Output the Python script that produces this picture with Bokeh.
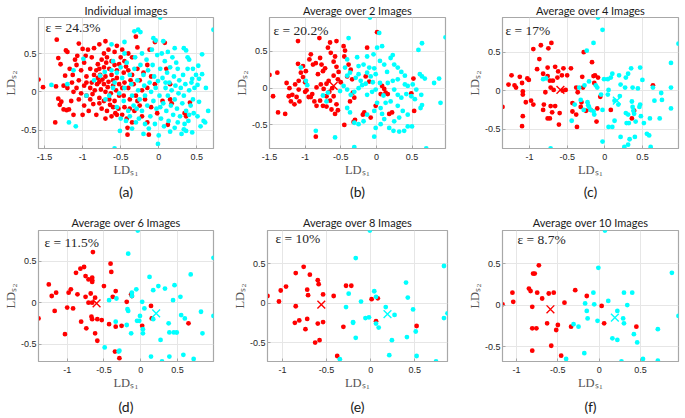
from bokeh.plotting import figure
from bokeh.models import Range1d, FixedTicker, NumeralTickFormatter, LinearAxis, Label
from bokeh.layouts import column, row
from bokeh.embed import file_html
from bokeh.resources import INLINE

titles = ["Individual images", "Average over 2 Images", "Average over 4 Images",
          "Average over 6 Images", "Average over 8 Images", "Average over 10 Images"]
errors = ["24.3%", "20.2%", "17%", "11.5%", "10%", "8.7%"]
letters = ["(a)", "(b)", "(c)", "(d)", "(e)", "(f)"]
x_ticks = [-1.5, -1, -0.5, 0, 0.5]
y_ticks = [-0.5, 0, 0.5]

red_a = [[-1.58,0.16],[-1.52,0.06],[-1.34,0.68],[-1.32,0.44],[-1.22,0.54],[-1.20,0.52],[-1.29,0.36],[-1.23,0.21],[-1.35,0.07],[-1.32,-0.09],[-1.28,-0.13],[-1.30,-0.17],[-1.25,-0.23],[-1.21,-0.24],[-1.18,-0.23],[-1.36,-0.40],[-1.17,0.30],[-1.14,0.12],[-1.12,0.00],[-1.15,-0.12],[-1.20,0.05],[-1.13,0.22],[-1.25,0.08],[-1.12,-0.30],[-1.10,0.42],
 [-1.05,0.63],[-1.00,0.56],[-1.08,0.35],[-1.02,0.28],[-0.98,0.38],[-0.95,0.20],[-1.05,0.15],[-0.98,0.08],[-1.02,-0.02],[-0.95,-0.05],[-1.05,-0.10],[-0.98,-0.18],[-0.92,-0.25],[-1.00,-0.30],[-0.88,0.45],[-0.90,0.30],[-0.85,0.22],[-0.88,0.12],[-0.84,0.02],[-0.90,-0.10],[-0.86,-0.16],[-0.82,-0.30],[-0.93,0.55],[-0.85,0.57],[-1.07,0.47],[-0.96,0.47],[-0.80,0.36],[-0.82,0.28],[-0.81,0.10],[-0.95,0.12],[-0.90,0.05],[-1.08,0.05],[-0.87,-0.03],
 [-0.78,0.62],[-0.70,0.66],[-0.72,0.50],[-0.75,0.42],[-0.68,0.45],[-0.62,0.40],[-0.78,0.30],[-0.72,0.32],[-0.65,0.30],[-0.58,0.35],[-0.55,0.28],[-0.77,0.22],[-0.70,0.20],[-0.62,0.22],[-0.55,0.18],[-0.78,0.13],[-0.72,0.10],[-0.66,0.13],[-0.60,0.08],[-0.52,0.10],[-0.76,0.03],[-0.70,0.00],[-0.63,-0.02],[-0.56,0.02],[-0.78,-0.08],[-0.72,-0.12],[-0.65,-0.10],[-0.58,-0.12],[-0.52,-0.05],[-0.75,-0.22],[-0.68,-0.25],[-0.60,-0.20],[-0.53,-0.22],[-0.70,-0.35],[-0.62,-0.32],[-0.55,-0.30],[-0.66,0.55],[-0.58,0.52],[-0.55,0.60],[-0.60,0.15],[-0.74,0.16],[-0.67,0.06],[-0.57,-0.28],[-0.78,-0.15],[-0.69,0.38],[-0.64,-0.17],[-0.80,0.18],[-0.50,0.45],[-0.52,0.36],
 [-0.48,0.55],[-0.45,0.40],[-0.40,0.50],[-0.35,0.45],[-0.30,0.72],[-0.28,0.58],[-0.46,0.25],[-0.40,0.28],[-0.35,0.22],[-0.28,0.30],[-0.45,0.12],[-0.40,0.05],[-0.33,0.10],[-0.25,0.15],[-0.46,-0.05],[-0.38,-0.10],[-0.30,-0.05],[-0.22,0.02],[-0.45,-0.20],[-0.38,-0.22],[-0.32,-0.25],[-0.25,-0.18],[-0.42,-0.35],[-0.35,-0.40],[-0.41,-0.47],[-0.41,-0.56],[-0.48,-0.30],[-0.22,-0.32],[-0.28,-0.12],[-0.20,0.25],[-0.43,0.33],[-0.37,0.15],[-0.48,0.05],
 [-0.12,0.55],[-0.05,0.65],[0.08,0.64],[-0.15,0.35],[-0.10,0.20],[-0.05,0.10],[-0.15,0.05],[-0.18,-0.10],[-0.10,-0.20],[-0.02,-0.28],[-0.13,-0.56],[-0.15,-0.40],[0.05,-0.12],[0.12,-0.43],[0.10,0.30],[0.15,0.10],[0.41,-0.14],[0.15,-0.10],[0.17,-0.15],[0.34,-0.28],[0.36,-0.32]]
cyan_a = [[0.02,0.97],[0.72,0.81],[-0.32,0.79],[-0.27,0.81],[-0.24,0.78],[-0.07,0.70],[-0.04,0.67],[0.06,0.66],[0.21,0.57],[0.33,0.57],[0.36,0.54],[0.57,0.49],[0.52,0.34],[0.57,0.23],[0.45,0.30],[0.49,0.22],[0.44,0.17],[0.51,0.09],[0.53,0.17],[0.53,-0.13],[0.59,-0.38],[0.61,-0.40],[0.51,-0.32],[0.55,-0.45],[0.44,-0.53],[0.36,-0.51],[0.33,-0.49],[0.25,-0.40],[0.21,-0.47],[0.00,-0.57],[-0.01,-0.68],[-0.58,-0.74],[-0.51,-0.51],[-1.09,-0.45],[-1.18,-0.40],[-1.41,0.09],[-1.12,0.28],[-0.99,0.43],[-0.77,0.21],[-0.71,0.26],[-1.20,0.10],[-0.95,-0.05],[-0.85,0.15],[-0.62,0.62],[-0.45,0.65],[0.40,0.42],[0.62,0.05],[0.65,-0.25],[0.45,-0.10],[0.40,-0.30],[0.30,-0.55],[0.15,-0.52],[-0.20,-0.55],[-0.35,-0.48],[-0.70,-0.10],[-0.60,0.40],
 [-0.58,0.12],[-0.55,0.25],[-0.52,-0.02],[-0.50,0.32],[-0.48,0.18],[-0.46,-0.12],[-0.45,0.05],[-0.42,0.38],[-0.40,-0.25],[-0.38,0.22],[-0.36,0.10],[-0.35,-0.05],[-0.33,-0.18],[-0.32,0.30],[-0.31,0.45],[-0.55,-0.20],[-0.50,-0.35],[-0.43,-0.38],[-0.38,-0.32],[-0.60,0.05],[-0.65,-0.05],[-0.62,0.28],[-0.30,-0.40],[-0.45,0.50],
 [-0.28,0.15],[-0.27,0.02],[-0.25,-0.10],[-0.24,0.35],[-0.22,-0.25],[-0.20,0.22],[-0.19,0.08],[-0.18,-0.05],[-0.16,0.42],[-0.15,-0.18],[-0.14,0.28],[-0.12,0.12],[-0.11,-0.32],[-0.10,0.00],[-0.08,0.35],[-0.07,-0.12],[-0.06,0.20],[-0.05,-0.42],[-0.04,0.05],[-0.03,-0.22],[-0.02,0.48],[-0.01,0.14],[-0.26,-0.35],[-0.22,0.50],[-0.18,-0.42],[-0.13,-0.48],[-0.09,0.55],[-0.29,-0.22],
 [0.01,-0.05],[0.02,0.30],[0.03,-0.35],[0.05,0.18],[0.06,-0.15],[0.08,0.40],[0.09,0.05],[0.10,-0.25],[0.11,0.25],[0.12,-0.05],[0.13,-0.38],[0.14,0.12],[0.15,0.32],[0.16,-0.18],[0.17,0.02],[0.18,0.45],[0.19,-0.30],[0.20,0.20],[0.21,-0.10],[0.22,0.08],[0.24,-0.22],[0.25,0.30],[0.26,-0.02],[0.27,0.15],[0.28,-0.32],[0.29,0.05],[0.04,0.50],[0.07,-0.45],[0.12,0.52],[0.23,0.38],[0.02,-0.20],[0.09,0.12],
 [0.31,-0.15],[0.32,0.22],[0.33,-0.05],[0.35,0.10],[0.36,-0.25],[0.38,0.30],[0.39,-0.38],[0.40,0.02],[0.42,-0.18],[0.43,0.12],[0.46,-0.28],[0.47,0.05],[0.34,-0.42],[0.38,0.45]]

red_b = [[-1.50,0.18],[-1.39,0.21],[-1.45,-0.11],[-1.38,-0.33],[-1.28,-0.35],[-1.26,0.07],[-1.23,-0.11],[-1.18,-0.09],[-1.12,-0.12],[-1.20,-0.18],[-1.15,-0.22],[-1.08,-0.18],[-1.10,0.64],[-1.10,0.33],[-1.03,0.30],[-1.06,0.21],[-0.99,0.23],[-1.22,0.00],[-1.14,0.05],[-1.09,0.10],[-1.03,0.15],[-1.09,-0.02],[-1.00,0.08],[-1.00,-0.05],
 [-0.94,0.39],[-0.92,0.46],[-0.89,0.32],[-0.85,0.34],[-0.79,0.41],[-0.77,0.32],[-0.72,0.27],[-0.75,0.23],[-0.82,0.19],
 [-0.98,-0.03],[-0.95,-0.12],[-0.90,-0.08],[-0.84,0.01],[-0.78,0.05],[-0.74,-0.01],[-0.70,0.06],
 [-0.92,-0.12],[-0.87,-0.18],[-0.84,-0.24],[-0.79,-0.17],[-0.75,-0.24],[-0.70,-0.11],[-0.65,-0.17],[-0.60,-0.11],
 [-0.80,0.68],[-0.68,0.55],[-0.64,0.48],[-0.58,0.43],[-0.56,0.64],[-0.65,0.62],
 [-0.60,0.36],[-0.56,0.29],[-0.53,0.22],[-0.60,0.17],[-0.54,0.12],[-0.50,0.08],
 [-0.63,-0.29],[-0.58,-0.35],[-0.56,-0.22],[-0.54,-0.30],
 [-0.46,0.57],[-0.44,0.51],[-0.45,0.43],[-0.39,0.32],[-0.36,0.25],[-0.41,0.16],[-0.34,0.12],
 [-0.33,-0.06],[-0.31,-0.13],[-0.37,-0.18],
 [-0.13,0.55],[0.01,0.76],[-0.15,0.16],[-0.10,0.09],
 [0.08,0.03],[0.13,-0.06],[0.06,-0.08],[0.11,-0.01],[0.16,-0.08],[0.22,-0.33],[0.18,-0.35],
 [-0.01,-0.24],[-0.08,-0.40],[-0.17,-0.33],[-0.19,-0.36],[-0.30,-0.43],[-0.32,-0.46],
 [0.52,0.13],[0.49,-0.07],[0.53,-0.31],[-0.45,-0.50],[-0.85,-0.66],[-0.70,-0.25],[-0.67,0.10],[-0.62,0.00],[-0.66,-0.05]]
cyan_b = [[-0.09,0.96],[0.04,0.75],[0.97,0.69],[0.64,0.61],[0.59,0.52],[0.23,0.45],[-0.04,0.46],[-0.13,0.43],[-0.39,0.68],[-0.27,0.42],[-0.41,0.39],
 [0.01,0.55],[0.08,0.57],[0.05,0.37],[0.11,0.32],[0.20,0.41],[0.25,0.32],[0.30,0.28],
 [-0.18,0.32],[-0.10,0.28],[-0.03,0.27],[-0.13,0.21],[-0.08,0.16],[-0.01,0.19],
 [-0.44,0.28],[-0.41,0.17],[-0.37,0.21],[-0.29,0.14],[-0.25,0.19],[-0.22,0.10],
 [-1.06,0.28],[-0.99,0.10],[-0.97,0.04],
 [-0.75,-0.10],[-0.68,-0.06],[-0.70,-0.18],
 [-0.51,-0.04],[-0.46,0.03],[-0.41,-0.02],[-0.36,-0.09],[-0.31,-0.05],[-0.25,0.00],[-0.20,0.04],[-0.15,0.06],
 [-0.13,-0.09],[-0.06,-0.05],[-0.01,-0.02],[0.05,0.07],[0.16,0.07],[0.23,0.10],[0.30,0.12],[0.40,0.17],[0.44,0.03],
 [0.61,0.19],[0.64,0.16],[0.68,0.13],[0.81,0.07],[0.88,0.13],[0.90,-0.20],
 [0.51,0.05],[0.56,-0.02],[0.49,-0.11],[0.54,-0.15],[0.63,-0.09],[0.40,0.05],[0.42,-0.08],[0.35,-0.13],[0.30,-0.09],[0.25,-0.02],
 [0.20,-0.18],[0.13,-0.20],[0.06,-0.27],[0.01,-0.20],[-0.03,-0.31],[-0.13,-0.36],[-0.18,-0.45],[-0.25,-0.49],[-0.31,-0.47],[-0.37,-0.33],[-0.41,-0.27],
 [0.30,-0.24],[0.37,-0.31],[0.44,-0.36],[0.32,-0.40],[0.25,-0.45],[0.18,-0.54],[0.24,-0.58],[0.32,-0.59],[0.39,-0.58],[0.44,-0.52],[0.50,-0.52],
 [0.08,-0.35],[0.11,-0.42],[0.06,-0.49],[-0.01,-0.54],
 [-0.85,-0.58],[-0.58,-0.67],[-0.31,-0.80],[-0.03,-0.66],[0.70,-0.82],[0.64,-0.23],[0.62,-0.27],
 [-0.25,0.30],[0.15,0.22],[0.35,0.22],[-0.05,0.08],[0.10,-0.10]]

red_c = [[-1.36,-0.21],[-1.28,0.08],[-1.24,0.20],[-1.20,0.07],[-1.18,0.04],[-1.13,0.18],[-1.10,0.10],[-1.09,-0.01],[-1.09,-0.05],[-1.03,0.16],[-1.01,0.14],[-1.05,-0.15],[-0.98,-0.13],[-0.95,-0.18],[-1.09,-0.33],[-1.10,-0.46],[-0.95,0.54],[-0.85,0.59],[-0.75,0.55],[-0.71,0.62],[-0.87,0.41],[-0.90,0.28],[-0.76,0.30],[-0.66,0.31],[-0.55,0.29],[-0.45,0.29],[-0.82,0.22],[-0.76,0.19],[-0.73,0.13],[-0.69,0.13],[-0.72,0.04],[-0.68,0.01],[-0.63,0.17],[-0.57,0.20],[-0.50,0.20],[-0.30,0.18],[-0.79,-0.02],[-0.81,-0.18],[-0.82,-0.25],[-0.72,-0.20],[-0.70,-0.28],[-0.73,-0.36],[-0.76,-0.36],[-0.60,-0.29],[-0.61,-0.44],[-0.66,-0.20],[-0.38,0.04],[-0.29,0.04],[-0.36,-0.02],[-0.31,-0.15],[-0.32,-0.21],[-0.38,-0.31],[-0.37,-0.47],[-0.43,-0.16],[-0.43,-0.27],[-0.28,0.50],[-0.15,0.19],[-0.13,0.20],[-0.17,0.37],[-0.10,-0.23],[-0.11,-0.40],[0.64,0.07],[0.36,-0.36],[0.39,-0.26],[-0.06,-0.08],[-0.25,-0.26],[-0.19,-0.25],[0.08,-0.25],[-0.14,0.10],[-0.09,0.17],[-0.52,0.01],[-0.62,0.25],[-0.56,0.00]]
cyan_c = [[-0.09,0.95],[-0.03,0.79],[-0.15,0.62],[-0.24,0.52],[0.98,0.61],[0.88,0.36],[0.47,0.30],[0.35,0.29],[0.31,0.22],[0.28,0.17],[0.19,0.20],[0.10,0.22],[0.08,0.17],[0.04,0.15],[-0.01,0.15],[-0.21,0.12],[-0.27,0.07],[-0.34,0.04],[-0.12,0.07],[-0.10,0.04],[-0.05,-0.05],[0.04,-0.05],[0.05,0.01],[0.21,0.08],[0.27,0.04],[0.37,0.04],[0.44,0.03],[-0.23,-0.15],[-0.21,-0.21],[-0.19,-0.25],[-0.22,-0.19],[-0.32,-0.12],[-0.40,-0.18],[-0.44,-0.39],[-0.28,-0.25],[-0.15,-0.27],[-0.14,-0.31],[-0.03,-0.25],[0.13,-0.13],[0.18,-0.18],[0.36,-0.14],[0.37,-0.21],[0.38,-0.26],[0.39,-0.30],[0.28,-0.29],[0.31,-0.31],[0.46,-0.21],[0.47,-0.18],[0.66,-0.13],[0.75,-0.03],[0.76,-0.12],[0.88,0.04],[0.88,-0.23],[0.64,0.04],[0.73,-0.36],[0.60,-0.36],[0.52,-0.42],[0.13,-0.39],[0.10,-0.47],[0.05,-0.47],[0.32,-0.42],[0.29,-0.42],[0.21,-0.60],[0.33,-0.63],[0.56,-0.56],[0.59,-0.58],[0.26,-0.73],[0.31,-0.70],[-0.03,-0.66],[-0.72,-0.75],[-0.82,0.15],[-0.78,0.16],[0.50,0.14],[0.48,-0.33],[0.41,-0.40],[0.61,-0.73],[0.40,-0.60],[0.20,-0.07]]

red_d = [[-1.39,-0.19],[-1.25,0.22],[-1.21,0.08],[-1.15,0.12],[-1.17,-0.10],[-1.03,-0.38],[-1.00,-0.06],[-0.92,-0.07],[-0.98,0.12],[-0.95,0.16],[-0.86,0.10],[-0.88,0.36],[-0.82,0.41],[-0.77,0.43],[-0.75,0.32],[-0.71,0.28],[-0.66,0.30],[-0.66,0.27],[-0.66,0.25],[-0.65,0.61],[-0.75,0.07],[-0.68,0.11],[-0.62,0.06],[-0.71,0.00],[-0.66,0.00],[-0.67,-0.17],[-0.66,-0.20],[-0.59,-0.20],[-0.53,-0.21],[-0.81,-0.23],[-0.74,-0.31],[-0.62,-0.37],[-0.59,-0.46],[-0.50,0.20],[-0.41,0.47],[-0.40,0.37],[-0.38,0.07],[-0.34,0.14],[-0.13,0.10],[-0.12,0.08],[-0.43,-0.26],[-0.34,-0.29],[-0.26,-0.28],[-0.35,-0.59],[-0.29,-0.67],[0.14,-0.04],[0.15,-0.19],[0.02,-0.28],[0.65,-0.25],[-0.19,0.01]]
cyan_d = [[-0.04,0.87],[-0.17,0.59],[0.99,0.54],[0.12,0.31],[0.24,0.20],[0.33,0.17],[0.46,0.21],[0.68,0.34],[-0.12,0.12],[-0.06,0.16],[0.17,0.15],[0.02,0.01],[0.05,-0.07],[-0.18,-0.08],[-0.17,-0.10],[-0.43,0.03],[-0.33,0.05],[-0.01,-0.16],[-0.05,-0.22],[-0.02,-0.22],[0.03,-0.32],[0.03,-0.37],[-0.19,-0.27],[-0.13,-0.37],[-0.34,-0.23],[0.38,-0.25],[0.17,-0.20],[0.44,0.03],[0.54,0.07],[0.55,-0.15],[0.60,-0.19],[0.39,-0.36],[0.45,-0.36],[0.49,-0.36],[0.82,-0.11],[0.84,-0.37],[0.99,-0.16],[0.27,-0.45],[-0.49,-0.54],[-0.30,-0.59],[-0.29,-0.58],[0.14,-0.65],[0.29,-0.71],[0.39,-0.65],[0.58,-0.63],[0.72,-0.68],[-0.12,0.08]]

red_e = [[-1.17,0.09],[-1.04,0.02],[-1.02,0.16],[-0.96,0.21],[-0.85,0.38],[-0.76,0.46],[-0.69,0.36],[-0.60,0.29],[-0.59,0.24],[-0.72,0.17],[-0.71,0.10],[-0.54,0.11],[-0.42,0.09],[-0.28,0.22],[-0.22,0.22],[-0.85,-0.04],[0.01,0.05],[0.08,0.06],[-0.86,-0.25],[-0.81,-0.22],[-0.72,-0.20],[-0.74,-0.33],[-0.60,-0.26],[-0.54,-0.24],[-0.31,-0.30],[0.06,-0.23],[0.52,-0.29],[-0.63,-0.50],[-0.58,-0.47],[-0.38,-0.67]]
cyan_e = [[-0.01,0.92],[-0.17,0.57],[0.83,0.47],[-0.25,0.12],[-0.11,0.02],[0.04,0.15],[0.06,0.08],[0.40,0.26],[0.42,0.07],[0.48,-0.08],[-0.28,-0.05],[-0.20,-0.24],[-0.20,-0.25],[-0.06,-0.19],[-0.02,-0.18],[0.06,-0.26],[0.09,-0.31],[0.17,-0.05],[0.27,-0.15],[0.24,-0.47],[-0.17,-0.44],[0.41,-0.43],[0.51,-0.36],[0.83,-0.19],[0.87,-0.13],[0.21,-0.66],[-0.35,-0.71],[0.52,-0.67],[0.74,-0.74]]

red_f = [[-1.17,0.01],[-1.05,0.15],[-1.04,0.04],[-0.73,0.48],[-0.80,0.38],[-0.78,0.38],[-0.85,0.20],[-0.83,0.17],[-0.75,0.15],[-0.69,0.08],[-0.61,0.14],[-0.55,0.15],[-0.81,-0.02],[-0.29,0.18],[-0.42,0.03],[-0.15,0.11],[0.03,-0.01],[-0.63,-0.22],[-0.50,-0.24],[-0.52,-0.30],[-0.81,-0.28],[-0.76,-0.28],[-0.34,-0.26],[0.06,-0.22],[0.45,-0.26],[-0.81,-0.55],[-0.58,-0.49],[-0.46,-0.61]]
cyan_f = [[0.07,0.90],[-0.01,0.45],[0.88,0.39],[-0.07,0.15],[0.11,0.05],[0.30,0.15],[0.40,0.15],[-0.17,0.02],[-0.06,0.01],[0.34,0.00],[-0.15,-0.07],[-0.14,-0.16],[-0.02,-0.19],[0.22,-0.07],[0.29,-0.16],[0.30,-0.22],[-0.31,-0.23],[-0.25,-0.26],[0.71,-0.29],[0.42,-0.35],[0.46,-0.45],[0.16,-0.40],[0.22,-0.42],[-0.18,-0.58],[-0.40,-0.65],[0.27,-0.68],[0.53,-0.65],[0.71,-0.67],[0.96,-0.13]]

# class centroids (red, cyan); None = not drawn
red_centroids = [None, [-0.60, 0.03], [-0.59, 0.01], [-0.60, -0.01], [-0.56, -0.02], [-0.59, -0.05]]
cyan_centroids = [None, None, [0.16, -0.13], [0.21, -0.13], [0.19, -0.14], [0.19, -0.15]]

reds = [red_a, red_b, red_c, red_d, red_e, red_f]
cyans = [cyan_a, cyan_b, cyan_c, cyan_d, cyan_e, cyan_f]

RED = "#ff0000"
CYAN = "#00ffff"
GRAY = "#a8a8a8"

# layout (pixels)
widths = [228, 232, 224, 228, 232, 224]
lefts = [33, 41, 42, 37, 39, 42]
rights = [15, 15, 6, 15, 13, 6]
heights = [205, 205, 205, 212, 212, 212]
tops = [16, 16, 16, 25, 25, 25]
bottoms = [54, 57, 57, 54, 50, 51]
title_gap = [2, 2, 2, 4, 4, 4]
letter_gap = [3, 3, 3, 5, 5, 5]
eps_dx = [7, 4, 3, 6, 8, 15]


def panel(i):
    red, cyan = reds[i], cyans[i]
    allx = [q[0] for q in red + cyan]
    ally = [q[1] for q in red + cyan]
    p = figure(width=widths[i], height=heights[i], output_backend="svg", toolbar_location=None,
               x_range=Range1d(min(allx), max(allx)), y_range=Range1d(min(ally), max(ally)),
               min_border_left=lefts[i], min_border_right=rights[i],
               min_border_top=tops[i], min_border_bottom=bottoms[i],
               background_fill_color="white", border_fill_color="white")
    p.title.text = titles[i]
    p.title.align = "center"
    p.title.text_font = "Lato"
    p.title.text_font_size = "11px"
    p.title.text_font_style = "normal"
    p.title.text_color = "#1a1a1a"
    p.title.standoff = title_gap[i]
    p.outline_line_color = GRAY
    p.outline_line_width = 1.2
    p.grid.grid_line_color = "#e6e6e6"
    p.xaxis.ticker = FixedTicker(ticks=x_ticks)
    p.yaxis.ticker = FixedTicker(ticks=y_ticks)
    p.xaxis.axis_label = "LDₛ₁"
    p.yaxis.axis_label = "LDₛ₂"
    for ax in (p.xaxis[0], p.yaxis[0]):
        ax.formatter = NumeralTickFormatter(format="0.[0]")
        ax.major_tick_in = 3
        ax.major_tick_out = 0
        ax.minor_tick_line_color = None
        ax.axis_line_color = GRAY
        ax.major_tick_line_color = GRAY
        ax.major_label_text_font = "Liberation Sans"
        ax.major_label_text_font_size = "9px"
        ax.major_label_text_color = "#262626"
        ax.axis_label_text_font = "Liberation Serif"
        ax.axis_label_text_font_size = "12.5px"
        ax.axis_label_text_font_style = "normal"
        ax.axis_label_text_color = "#555555"
    p.xaxis.major_label_standoff = 5
    p.xaxis.axis_label_standoff = 0
    p.yaxis.major_label_standoff = 2
    p.yaxis.axis_label_standoff = 0
    lab = LinearAxis(ticker=FixedTicker(ticks=[]), axis_label=letters[i],
                     axis_line_color=None, major_tick_line_color=None, minor_tick_line_color=None,
                     major_label_text_font_size="0px", major_label_standoff=0,
                     axis_label_text_font="Lato", axis_label_text_font_size="14px",
                     axis_label_text_font_style="normal", axis_label_text_color="#1a1a1a",
                     axis_label_standoff=letter_gap[i])
    p.add_layout(lab, "below")

    p.scatter([q[0] for q in red], [q[1] for q in red], size=4.8, fill_color=RED, line_color=None)
    p.scatter([q[0] for q in cyan], [q[1] for q in cyan], size=4.8, fill_color=CYAN, line_color=None)
    if red_centroids[i] is not None:
        p.scatter([red_centroids[i][0]], [red_centroids[i][1]], marker="x", size=11,
                  line_color=RED, line_width=1.4)
    if cyan_centroids[i] is not None:
        p.scatter([cyan_centroids[i][0]], [cyan_centroids[i][1]], marker="x", size=11,
                  line_color=CYAN, line_width=1.4)
    frame_h = heights[i] - tops[i] - bottoms[i]
    p.add_layout(Label(x=eps_dx[i], y=frame_h - 14, x_units="screen", y_units="screen",
                       text="ε = " + errors[i], text_font="Liberation Serif",
                       text_font_size="13.5px", text_baseline="middle", text_color="#262626"))
    return p


figs = [panel(i) for i in range(6)]
layout = column(row(*figs[:3]), row(*figs[3:]))
open("out.html", "w").write(file_html(layout, INLINE))
